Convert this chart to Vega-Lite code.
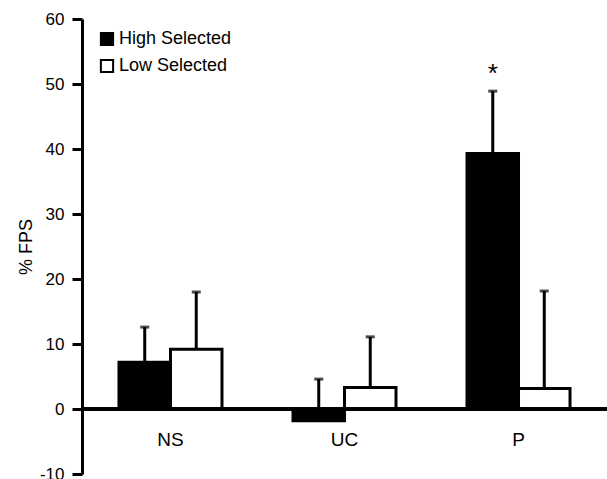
{
  "$schema": "https://vega.github.io/schema/vega-lite/v6.json",
  "width": 525,
  "height": 455,
  "autosize": {"type": "none"},
  "padding": {"left": 82, "top": 19, "right": 0, "bottom": 5},
  "background": "white",
  "config": {
    "view": {"stroke": null},
    "font": "Liberation Sans",
    "axis": {"grid": false}
  },
  "datasets": {
    "bars": [
      {"cat": "NS", "group": "High Selected", "value": 7.2, "upper": 12.6},
      {"cat": "NS", "group": "Low Selected", "value": 9.2, "upper": 18.0},
      {"cat": "UC", "group": "High Selected", "value": -1.8, "upper": 4.6},
      {"cat": "UC", "group": "Low Selected", "value": 3.3, "upper": 11.1},
      {"cat": "P", "group": "High Selected", "value": 39.3, "upper": 48.9},
      {"cat": "P", "group": "Low Selected", "value": 3.15, "upper": 18.15}
    ],
    "marks": [
      {"cat": "P", "group": "High Selected", "y": 51.5, "label": "*"}
    ]
  },
  "encoding": {
    "x": {
      "field": "cat",
      "type": "nominal",
      "sort": ["NS", "UC", "P"],
      "scale": {"paddingInner": 0.408, "paddingOuter": 0.2125},
      "axis": {
        "title": null,
        "orient": "bottom",
        "offset": -65,
        "domain": false,
        "ticks": false,
        "labelAngle": 0,
        "labelPadding": 21,
        "labelFontSize": 19,
        "labelColor": "black"
      }
    },
    "xOffset": {
      "field": "group",
      "type": "nominal",
      "sort": ["High Selected", "Low Selected"],
      "scale": {"paddingInner": 0, "paddingOuter": 0}
    }
  },
  "layer": [
    {
      "data": {"name": "bars"},
      "mark": {"type": "rule", "color": "black", "strokeWidth": 3},
      "encoding": {
        "y": {
          "field": "value",
          "type": "quantitative",
          "scale": {"domain": [-10, 60], "nice": false, "zero": false},
          "axis": {
            "title": "% FPS",
            "titleFontSize": 18,
            "titleFontWeight": "normal",
            "titleColor": "black",
            "titlePadding": 4,
            "values": [-10, 0, 10, 20, 30, 40, 50, 60],
            "labelExpr": "'' + datum.value",
            "domainColor": "black",
            "domainWidth": 3,
            "tickColor": "black",
            "tickWidth": 3,
            "tickSize": 10,
            "labelFontSize": 17,
            "labelColor": "black",
            "labelPadding": 8
          }
        },
        "y2": {"field": "upper"}
      }
    },
    {
      "data": {"name": "bars"},
      "mark": {"type": "tick", "color": "black", "orient": "horizontal", "size": 9, "thickness": 3},
      "encoding": {
        "y": {"field": "upper", "type": "quantitative"}
      }
    },
    {
      "data": {"name": "bars"},
      "mark": {"type": "bar", "stroke": "black", "strokeWidth": 3, "opacity": 1},
      "encoding": {
        "y": {"field": "value", "type": "quantitative"},
        "y2": {"datum": 0},
        "fill": {
          "field": "group",
          "type": "nominal",
          "scale": {"domain": ["High Selected", "Low Selected"], "range": ["black", "white"]},
          "legend": {
            "title": null,
            "orient": "none",
            "legendX": 16,
            "legendY": 11,
            "symbolType": "square",
            "symbolSize": 150,
            "symbolStrokeColor": "black",
            "symbolStrokeWidth": 2,
            "symbolOpacity": 1,
            "labelFontSize": 18,
            "labelColor": "black",
            "labelOffset": 3,
            "rowPadding": 5
          }
        }
      }
    },
    {
      "data": {"name": "bars"},
      "mark": {"type": "rule", "color": "black", "strokeWidth": 3},
      "encoding": {
        "y": {"datum": 0},
        "x": null,
        "xOffset": null
      }
    },
    {
      "data": {"name": "marks"},
      "mark": {"type": "text", "fontSize": 26, "font": "Liberation Sans", "color": "black", "baseline": "middle"},
      "encoding": {
        "y": {"field": "y", "type": "quantitative"},
        "text": {"field": "label"}
      }
    }
  ]
}
